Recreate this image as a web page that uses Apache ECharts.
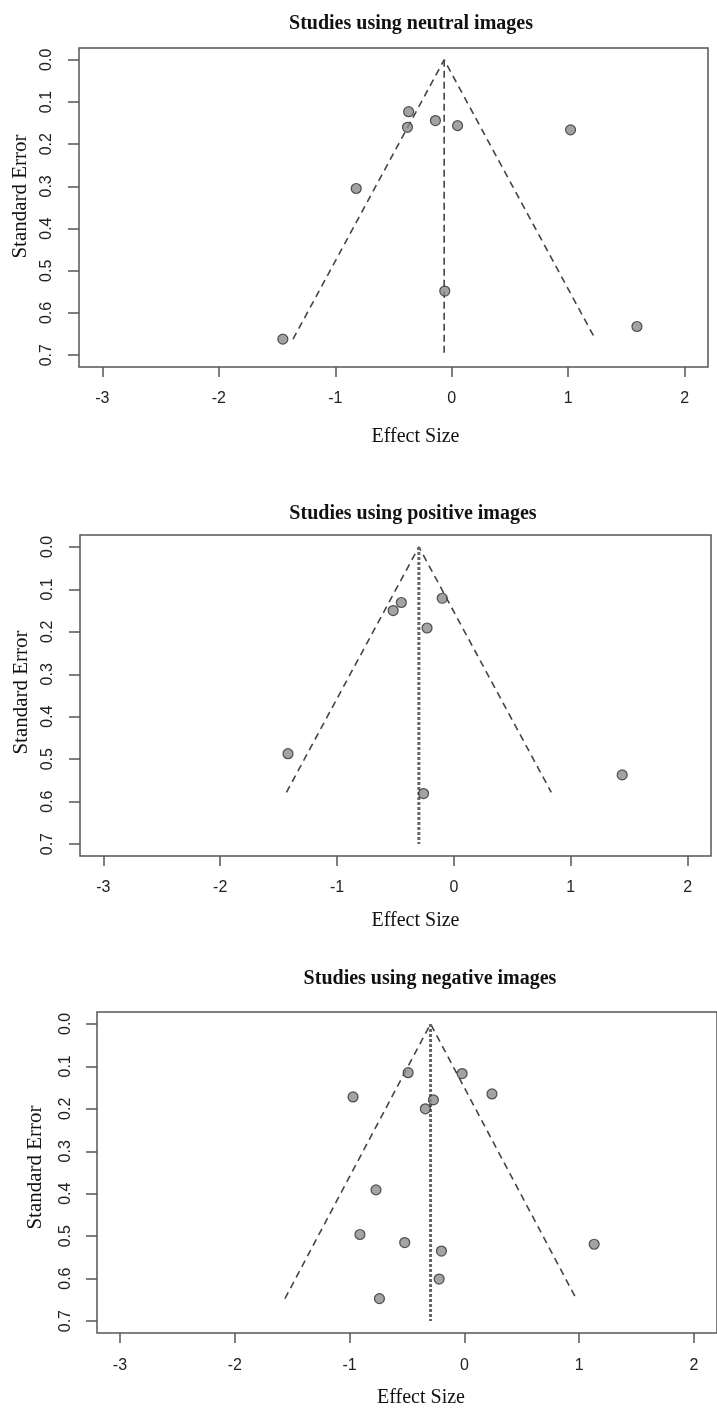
<!DOCTYPE html>
<html>
<head>
<meta charset="utf-8">
<script src="https://cdn.jsdelivr.net/npm/echarts@6/dist/echarts.min.js"></script>
<style>
  html, body { margin: 0; padding: 0; background: #fff; }
  #chart { width: 717px; height: 1412px; }
</style>
</head>
<body>
<div id="chart"></div>
<script>
// tick labels
const xTicks = [-3, -2, -1, 0, 1, 2]
const yTicks = [0, 0.1, 0.2, 0.3, 0.4, 0.5, 0.6, 0.7]

// panel titles
const titles = [
  'Studies using neutral images',
  'Studies using positive images',
  'Studies using negative images'
]

// neutral images
const neutralEffect = [-0.37, -0.38, -0.14, 0.05, 1.02, -0.82, -0.06, 1.59, -1.45]
const neutralSE = [0.123, 0.160, 0.144, 0.156, 0.166, 0.305, 0.548, 0.632, 0.662]

// positive images
const positiveEffect = [-0.10, -0.45, -0.52, -0.23, -1.42, 1.44, -0.26]
const positiveSE = [0.121, 0.131, 0.150, 0.191, 0.487, 0.537, 0.581]

// negative images
const negativeEffect = [-0.49, -0.02, -0.97, 0.24, -0.27, -0.34, -0.77, -0.91, -0.52, -0.20, 1.13, -0.22, -0.74]
const negativeSE = [0.115, 0.117, 0.172, 0.165, 0.179, 0.200, 0.391, 0.496, 0.515, 0.535, 0.519, 0.601, 0.647]

// summary estimate and max SE of each funnel
const centers = [-0.065, -0.30, -0.295]
const seMax = [0.662, 0.578, 0.647]

const effects = [neutralEffect, positiveEffect, negativeEffect]
const ses = [neutralSE, positiveSE, negativeSE]

// layout (px)
const grids = [
  { left: 79, top: 48, width: 629, height: 319 },
  { left: 80, top: 535, width: 631, height: 321 },
  { left: 97, top: 1012, width: 631, height: 321 }
]
const titleLayout = [
  { x: 406, y: 9 },
  { x: 408, y: 499 },
  { x: 425, y: 964 }
]
const xLabelMargin = [24, 24, 25]
const xNameGap = [60, 55, 55]
const xNameShift = [22, 20, 14]
const yLabelMargin = [24, 24, 23]
const yNameGap = [48, 48, 51]
const yNameShift = [11, 3, 5]

const chart = echarts.init(document.getElementById('chart'))

const sans = 'Liberation Sans, Arial, sans-serif'
const serif = 'Liberation Serif, Times New Roman, serif'
const boxColor = '#555'

const option = {
  animation: false,
  backgroundColor: '#fff',
  title: titles.map((t, i) => ({
    text: t,
    left: titleLayout[i].x,
    top: titleLayout[i].y,
    textAlign: 'center',
    textStyle: { fontFamily: serif, fontSize: 20, fontWeight: 'bold', color: '#111' }
  })),
  grid: grids.map(g => ({
    ...g,
    show: true,
    borderColor: boxColor,
    borderWidth: 1.5,
    containLabel: false
  })),
  xAxis: grids.map((g, i) => ({
    gridIndex: i,
    type: 'value',
    min: -3.2,
    max: 2.2,
    axisLine: { show: false, onZero: false },
    splitLine: { show: false },
    axisTick: {
      show: true,
      customValues: xTicks,
      length: 10,
      lineStyle: { color: boxColor, width: 1.5 }
    },
    axisLabel: {
      customValues: xTicks,
      margin: xLabelMargin[i],
      fontFamily: sans,
      fontSize: 16,
      color: '#222'
    },
    name: 'Effect Size',
    nameLocation: 'middle',
    nameGap: xNameGap[i],
    nameTextStyle: {
      fontFamily: serif, fontSize: 20, color: '#111',
      padding: [0, 0, 0, xNameShift[i] * 2]
    }
  })),
  yAxis: grids.map((g, i) => ({
    gridIndex: i,
    type: 'value',
    inverse: true,
    min: -0.028,
    max: 0.728,
    axisLine: { show: false, onZero: false },
    splitLine: { show: false },
    axisTick: {
      show: true,
      customValues: yTicks,
      length: 11,
      lineStyle: { color: boxColor, width: 1.5 }
    },
    axisLabel: {
      customValues: yTicks,
      rotate: 90,
      margin: yLabelMargin[i],
      fontFamily: sans,
      fontSize: 16,
      color: '#222',
      formatter: v => Number(v).toFixed(1)
    },
    name: 'Standard Error',
    nameLocation: 'middle',
    nameRotate: 90,
    nameGap: yNameGap[i],
    nameTextStyle: {
      fontFamily: serif, fontSize: 21, color: '#111',
      padding: [0, 0, 0, yNameShift[i] * 2]
    }
  })),
  series: []
}

for (let i = 0; i < 3; i++) {
  const c = centers[i], s = seMax[i]
  // funnel (pseudo 95% CI region)
  option.series.push({
    type: 'line',
    xAxisIndex: i,
    yAxisIndex: i,
    data: [[c - 1.96 * s, s], [c, 0], [c + 1.96 * s, s]],
    symbol: 'none',
    lineStyle: { color: '#444', width: 1.6, type: [7, 5] },
    z: 2
  })
  // vertical line at summary estimate (dashed in first panel, dotted otherwise)
  option.series.push({
    type: 'line',
    xAxisIndex: i,
    yAxisIndex: i,
    data: [[c, 0], [c, yTicks[yTicks.length - 1]]],
    symbol: 'none',
    lineStyle: i === 0
      ? { color: '#444', width: 1.6, type: [7, 4] }
      : { color: '#666', width: 3, type: [3, 2] },
    z: 2
  })
  // studies
  option.series.push({
    type: 'scatter',
    xAxisIndex: i,
    yAxisIndex: i,
    data: effects[i].map((e, k) => [e, ses[i][k]]),
    symbol: 'circle',
    symbolSize: 10,
    itemStyle: { color: '#8c8c8c', borderColor: '#2e2e2e', borderWidth: 1.2 },
    z: 3
  })
}

chart.setOption(option)
</script>
</body>
</html>
